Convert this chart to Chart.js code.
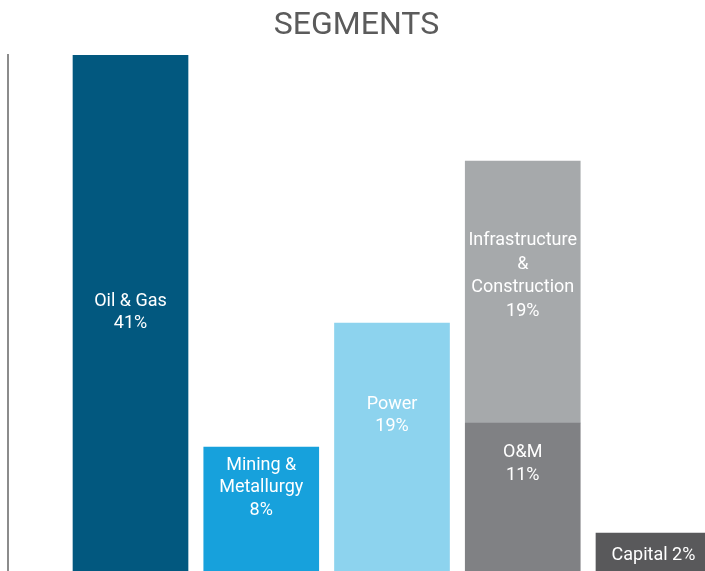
<!DOCTYPE html>
<html>
<head>
<meta charset="utf-8">
<script src="https://cdn.jsdelivr.net/npm/chart.js@4/dist/chart.umd.min.js"></script>
<style>
  html, body { margin: 0; padding: 0; background: #ffffff; overflow: hidden; }
  #wrap { width: 705px; height: 571px; }
</style>
</head>
<body>
<div id="wrap"><canvas id="c" width="705" height="571"></canvas></div>
<script>
// ---- data ----
const categories = ['Oil & Gas', 'Mining & Metallurgy', 'Power', 'O&M', 'Capital'];
const shares = [41, 8, 19, 11, 2];                 // labelled percentages
const barHeights = [41, 9.85, 19.7, 11.76, 3.02];  // drawn bar heights
const stackedCategory = 'Infrastructure & Construction';
const stackedShare = 19;
const stackedHeight = 20.82;
const stackedOn = 4;                                // sits on top of the O&M bar
const positions = [1, 2, 3, 4, 5];

const baseColors = ['#02587f', '#17a1dc', '#8dd3ee', '#808184', '#59595b'];
const stackedColor = '#a6a9ab';

// label wrapping (text only)
const wrapped = {
  'Oil & Gas': ['Oil & Gas', '{p}'],
  'Mining & Metallurgy': ['Mining &', 'Metallurgy', '{p}'],
  'Power': ['Power', '{p}'],
  'O&M': ['O&M', '{p}'],
  'Capital': ['Capital {p}'],
  'Infrastructure & Construction': ['Infrastructure', '&', 'Construction', '{p}']
};
// vertical offset of first text line centre from the bar top, and line spacing (style)
const firstLineOffset = [246.5, 18, 81.5, 29.5, 23];
const lineSpacing = [22, 22.7, 21.5, 23, 22];
const stackedFirstOffset = 80;
const stackedLineSpacing = 23.5;

const labelPlugin = {
  id: 'barLabels',
  afterDatasetsDraw(chart) {
    const ctx = chart.ctx;
    ctx.save();
    ctx.fillStyle = '#ffffff';
    ctx.font = '400 18px Roboto, "Open Sans", sans-serif';
    ctx.textAlign = 'center';
    ctx.textBaseline = 'middle';
    const draw = (bar, name, share, off, lh) => {
      const lines = wrapped[name].map(s => s.replace('{p}', share + '%'));
      lines.forEach((t, k) => ctx.fillText(t, bar.x, bar.y + off + k * lh));
    };
    const m0 = chart.getDatasetMeta(0).data;
    m0.forEach((bar, i) => draw(bar, categories[i], shares[i], firstLineOffset[i], lineSpacing[i]));
    const m1 = chart.getDatasetMeta(1).data;
    if (m1[0]) draw(m1[0], stackedCategory, stackedShare, stackedFirstOffset, stackedLineSpacing);
    ctx.restore();
  }
};

new Chart(document.getElementById('c'), {
  type: 'bar',
  data: {
    datasets: [
      {
        label: 'Segments',
        data: positions.map((x, i) => ({ x: x, y: barHeights[i] })),
        backgroundColor: baseColors,
        borderWidth: 0,
        barThickness: 115
      },
      {
        label: stackedCategory,
        data: [{ x: positions[stackedOn - 1], y: stackedHeight }],
        backgroundColor: stackedColor,
        borderWidth: 0,
        barThickness: 115
      }
    ]
  },
  options: {
    responsive: false,
    animation: false,
    layout: { padding: { left: 8, right: 0, top: 0, bottom: 0 } },
    plugins: {
      legend: { display: false },
      tooltip: { enabled: false },
      title: {
        display: true,
        text: 'SEGMENTS',
        color: '#5b5b5b',
        font: { family: 'Roboto, "Open Sans", sans-serif', size: 32, weight: '400', lineHeight: 1.2 },
        padding: { top: 7, bottom: 9.6 }
      }
    },
    scales: {
      x: {
        type: 'linear',
        stacked: true,
        display: false,
        min: 0.063,
        max: 5.394,
        offset: false
      },
      y: {
        stacked: true,
        min: 0,
        max: 41,
        ticks: { display: false },
        grid: { display: false, drawTicks: false },
        border: { display: true, color: '#8c8c8c', width: 2 }
      }
    }
  },
  plugins: [labelPlugin]
});
</script>
</body>
</html>
